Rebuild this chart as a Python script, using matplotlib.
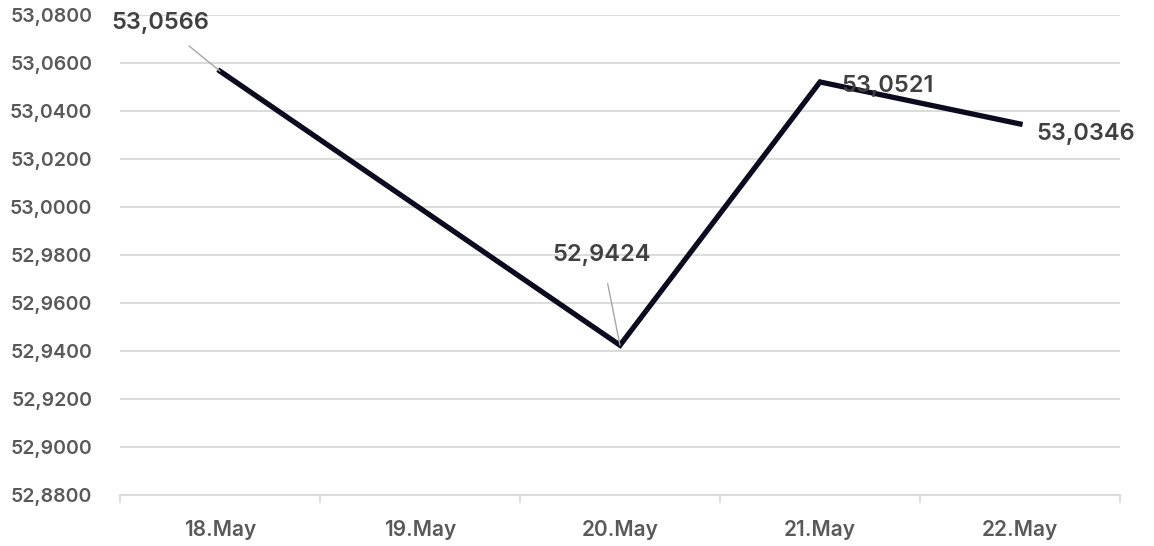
import matplotlib
matplotlib.use("Agg")
import matplotlib.pyplot as plt
import numpy as np

categories = ["18.May", "19.May", "20.May", "21.May", "22.May"]
values = [53.0566, np.nan, 52.9424, 53.0521, 53.0346]
y_ticks = [52.88, 52.90, 52.92, 52.94, 52.96, 52.98, 53.00, 53.02, 53.04, 53.06, 53.08]

def fmt(v):
    return f"{v:.4f}".replace(".", ",")

plt.rcParams['font.family'] = ['Inter', 'DejaVu Sans']

fig = plt.figure(figsize=(11.54, 5.46), dpi=100)
ax = fig.add_axes([120/1154, 1-495/546, 1000/1154, 480/546])

x = np.arange(len(categories))
vals = np.array(values, dtype=float)
mask = ~np.isnan(vals)
ax.plot(x[mask], vals[mask], color="#0b0a1f", lw=3.8, solid_joinstyle="miter", zorder=3)

ax.set_xlim(-0.5, len(categories) - 0.5)
ax.set_ylim(y_ticks[0], y_ticks[-1])
ax.set_yticks(y_ticks)
ax.set_yticklabels([fmt(v) for v in y_ticks])
ax.set_xticks(x)
ax.set_xticklabels(categories)
ax.tick_params(axis="y", length=0, pad=20, labelsize=14, labelcolor="#595959")
ax.tick_params(axis="x", length=0, pad=18, labelsize=15, labelcolor="#595959")
for t in ax.get_yticklabels() + ax.get_xticklabels():
    t.set_fontweight(600)

ax.grid(axis="y", color="#d9d9d9", lw=1.3)
ax.set_axisbelow(True)
for s in ["top", "right", "left"]:
    ax.spines[s].set_visible(False)
ax.spines["bottom"].set_color("#d9d9d9")
ax.spines["bottom"].set_linewidth(1.3)

ax.set_xticks(np.arange(-0.5, len(categories)), minor=True)
ax.tick_params(axis="x", which="minor", length=6, color="#d9d9d9", width=1.3, direction="out")

label_offsets = {0: (-43, 35), 2: (-13, 65), 3: (49, -3), 4: (47, -7)}
leader = {0: True, 2: True, 3: False, 4: False}
for i, v in enumerate(values):
    if np.isnan(v):
        continue
    dx, dy = label_offsets[i]
    ax.annotate(fmt(v), xy=(i, v), xytext=(dx, dy), textcoords="offset points",
                ha="center", va="center", fontsize=17, color="#404040",
                fontweight=600, zorder=4,
                arrowprops=dict(arrowstyle="-", color="#a6a6a6", lw=1.0,
                                shrinkA=11, shrinkB=0) if leader[i] else None)

fig.savefig("out.png", dpi=100)
